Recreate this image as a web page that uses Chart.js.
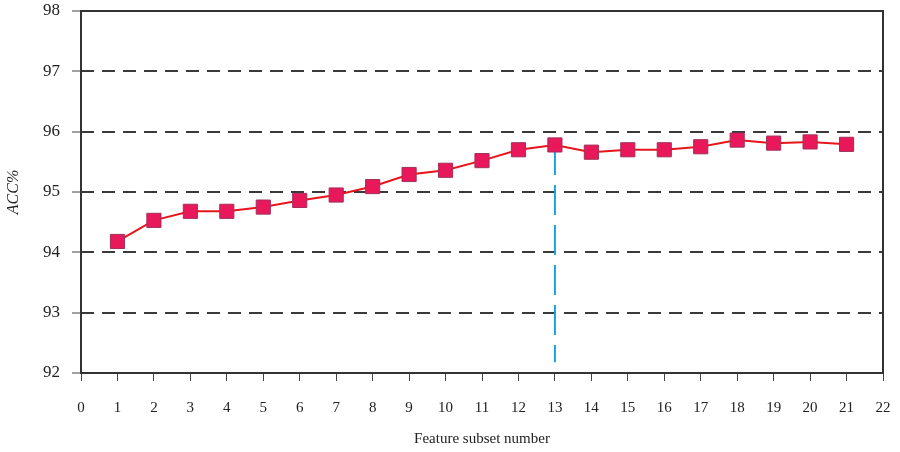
<!DOCTYPE html>
<html>
<head>
<meta charset="utf-8">
<script src="https://cdn.jsdelivr.net/npm/chart.js@4"></script>
<style>
  html, body { margin: 0; padding: 0; background: #fff; }
  #wrap { width: 900px; height: 452px; }
</style>
</head>
<body>
<div id="wrap"><canvas id="accChart" width="900" height="452"></canvas></div>
<script>
// Data
const subsetNumbers = [1, 2, 3, 4, 5, 6, 7, 8, 9, 10, 11, 12, 13, 14, 15, 16, 17, 18, 19, 20, 21];
const accValues = [94.18, 94.53, 94.68, 94.68, 94.75, 94.86, 94.95, 95.09, 95.29, 95.36, 95.52,
                   95.70, 95.78, 95.66, 95.70, 95.70, 95.75, 95.86, 95.81, 95.83, 95.79];
const markerX = [13, 13];
const markerY = [95.78, 92.18];
const yTicks = [92, 93, 94, 95, 96, 97, 98];

const serif = "'Liberation Serif', 'DejaVu Serif', serif";

// frame around the plot area
const framePlugin = {
  id: "frame",
  afterDraw(chart) {
    const { ctx, chartArea: a } = chart;
    ctx.save();
    ctx.strokeStyle = "#333";
    ctx.lineWidth = 2;
    ctx.strokeRect(a.left, a.top, a.right - a.left, a.bottom - a.top);
    ctx.restore();
  }
};

new Chart(document.getElementById("accChart"), {
  type: "line",
  data: {
    datasets: [
      {
        label: "ACC",
        data: subsetNumbers.map((x, i) => ({ x, y: accValues[i] })),
        borderColor: "#e8141c",
        borderWidth: 2,
        pointStyle: "rect",
        pointRadius: 10,
        pointHoverRadius: 10,
        pointBackgroundColor: "#e8185a",
        pointBorderColor: "#a0305a",
        pointBorderWidth: 1,
        tension: 0,
        order: 1
      },
      {
        label: "best",
        data: markerX.map((x, i) => ({ x, y: markerY[i] })),
        borderColor: "#1ba2d8",
        borderWidth: 2,
        borderDash: [30, 10],
        pointRadius: 0,
        order: 2
      }
    ]
  },
  options: {
    responsive: false,
    animation: false,
    layout: { padding: { top: 8, right: 17, bottom: 0, left: 0 } },
    plugins: { legend: { display: false }, tooltip: { enabled: false } },
    scales: {
      x: {
        type: "linear",
        min: 0,
        max: 22,
        afterFit(s) { s.height = 79; s.paddingLeft = 0; s.paddingRight = 0; },
        ticks: {
          stepSize: 1,
          color: "#222",
          padding: 18,
          font: { family: serif, size: 15 }
        },
        grid: {
          color: "transparent",
          tickColor: "#444",
          tickLength: 8,
          drawOnChartArea: false
        },
        border: { display: false },
        title: {
          display: true,
          text: "Feature subset number",
          color: "#222",
          font: { family: serif, size: 15 },
          padding: { top: 12 }
        }
      },
      y: {
        type: "linear",
        min: 92,
        max: 98,
        afterFit(s) { s.width = 81; s.paddingTop = 0; s.paddingBottom = 0; },
        afterBuildTicks(s) { s.ticks = yTicks.map(v => ({ value: v })); },
        ticks: {
          color: "#222",
          padding: 12,
          font: { family: serif, size: 17 }
        },
        grid: {
          color: "#3a3a3a",
          lineWidth: 2,
          tickColor: "#444",
          tickWidth: 1,
          tickLength: 9,
          tickBorderDash: []
        },
        border: { display: false, dash: [13, 8] },
        title: {
          display: true,
          text: "ACC%",
          color: "#222",
          font: { family: serif, size: 16, style: "italic" },
          padding: { bottom: 4 }
        }
      }
    }
  },
  plugins: [framePlugin]
});
</script>
</body>
</html>
